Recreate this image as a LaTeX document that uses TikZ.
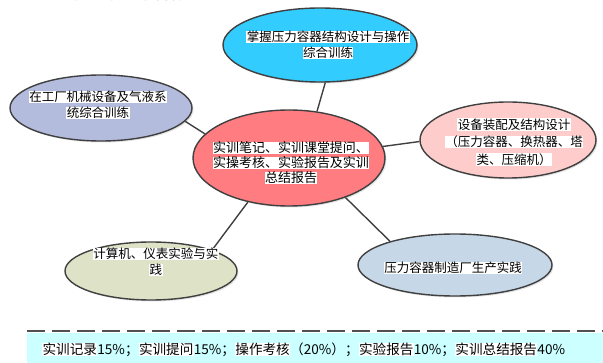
\documentclass[tikz,border=0pt]{standalone}
\usepackage{fontspec}
\setmainfont{Noto Sans CJK SC}
\usetikzlibrary{shapes.geometric,shadows}
\definecolor{edge}{HTML}{404040}
\definecolor{topc}{HTML}{33CCFF}
\definecolor{leftc}{HTML}{B3BCDD}
\definecolor{midc}{HTML}{FF7C80}
\definecolor{rightc}{HTML}{FFCCCC}
\definecolor{blc}{HTML}{DEE2C6}
\definecolor{brc}{HTML}{C6D7E8}
\definecolor{legbg}{HTML}{CCFFFF}
\definecolor{dashc}{HTML}{505050}
\newcommand\hl[1]{{\setlength{\fboxsep}{0.4pt}\colorbox{white}{#1}}}
\begin{document}
\begin{tikzpicture}[x=1pt,y=-1pt,
  bub/.style={ellipse, draw=edge, line width=1.4pt, inner sep=0pt,
    drop shadow={shadow xshift=1.5pt, shadow yshift=-1.5pt, fill=black!22}},
  lbl/.style={align=center, inner sep=0pt, font=\fontsize{12.5}{16}\selectfont},
  conn/.style={draw=edge, line width=1.4pt}]
\useasboundingbox (0,0) rectangle (603,363);
% partial title at the very top
\node[anchor=west, inner sep=0pt, font=\fontsize{14}{16}\selectfont] (title) at (2,-6) {二、实训考核方式及考核内容：};
% bubbles
\node[bub, fill=topc, minimum width=194pt, minimum height=74pt] (t) at (320,45) {};
\node[bub, fill=leftc, minimum width=182pt, minimum height=66pt] (l) at (101,108) {};
\node[bub, fill=midc, minimum width=192pt, minimum height=96pt] (c) at (289,158) {};
\node[bub, fill=rightc, minimum width=176pt, minimum height=76pt] (r) at (508,140) {};
\node[bub, fill=blc, minimum width=172pt, minimum height=58pt] (bl) at (151,271) {};
\node[bub, fill=brc, minimum width=194pt, minimum height=62pt] (br) at (455,265) {};
% connectors
\draw[conn] (c.59) -- (t.-82);
\draw[conn] (c.164) -- (l.-9);
\draw[conn] (c.7) -- (r.181);
\draw[conn] (c.-133) -- (bl.19);
\draw[conn] (c.-35) -- (br.160);
% labels
\node[lbl] (tt) at (328,45) {\hl{掌握压力容器结构设计与操作}\\\hl{综合训练}};
\node[lbl] (lt) at (98,105) {\hl{在工厂机械设备及气液系}\\\hl{统综合训练}};
\node[lbl, font=\fontsize{13}{15}\selectfont] (ct) at (291,163) {\hl{实训笔记、实训课堂提问、}\\\hl{实操考核、实验报告及实训}\\\hl{总结报告}};
\node[lbl, font=\fontsize{12.5}{17.5}\selectfont] (rt) at (514,142) {\hl{设备装配及结构设计}\\\hl{（压力容器、换热器、塔}\\\hl{类、压缩机）}};
\node[lbl] (blt) at (156,262) {\hl{计算机、仪表实验与实}\\\hl{践}};
\node[lbl] (brt) at (453,268) {\hl{压力容器制造厂生产实践}};
% bottom legend
\coordinate (d1) at (27,331);
\coordinate (d2) at (603,331);
\draw[dashc, line width=2pt, dash pattern=on 18pt off 7pt] (d1) -- (d2);
\node[fill=legbg, inner sep=0pt, minimum width=576pt, minimum height=30pt, anchor=north west] (box) at (27,333) {};
\node[anchor=west, inner sep=0pt, font=\fontsize{13.6}{15}\selectfont] (leg) at (42,350)
  {\hl{实训记录}15\%；\hl{实训提问}15\%；\hl{操作考核}（20\%）；\hl{实验报告}10\%；\hl{实训总结报告}40\%};
\end{tikzpicture}
\end{document}
